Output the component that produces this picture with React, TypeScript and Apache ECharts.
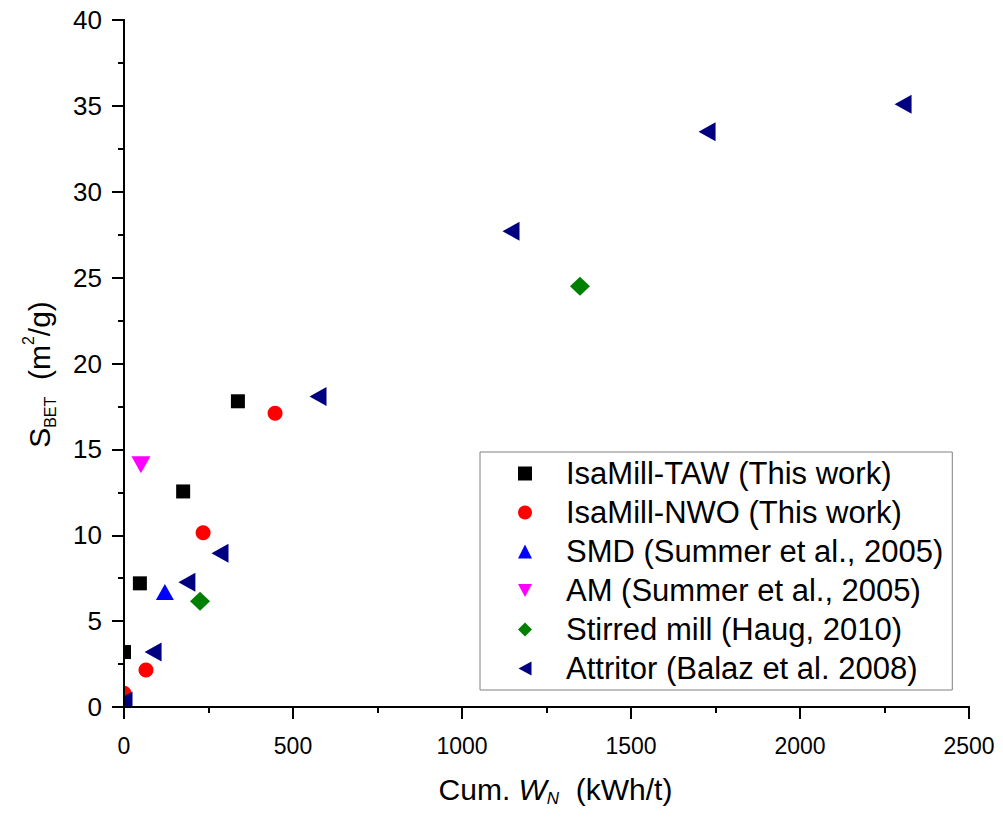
import React, { useEffect, useRef } from "react";
import * as echarts from "echarts";

const FONT = "'Liberation Sans', Arial, Helvetica, sans-serif";

const xMin = 0;
const xMax = 2500;
const xInterval = 500;
const yMin = 0;
const yMax = 40;
const yInterval = 5;

const seriesNames = [
  "IsaMill-TAW (This work)",
  "IsaMill-NWO (This work)",
  "SMD (Summer et al., 2005)",
  "AM (Summer et al., 2005)",
  "Stirred mill (Haug, 2010)",
  "Attritor (Balaz et al. 2008)",
];

const tawData = [
  [0, 3.2],
  [47, 7.2],
  [175, 12.55],
  [337, 17.8],
];
const nwoData = [
  [0, 0.8],
  [65, 2.15],
  [234, 10.15],
  [447, 17.1],
];
const smdData = [[121, 6.7]];
const amData = [[50, 14.1]];
const stirredData = [
  [225, 6.16],
  [1349, 24.5],
];
const attritorData = [
  [0, 0.35],
  [86, 3.2],
  [186, 7.27],
  [284, 8.95],
  [574, 18.08],
  [1145, 27.7],
  [1725, 33.5],
  [2305, 35.1],
];

const seriesData = [tawData, nwoData, smdData, amData, stirredData, attritorData];
const seriesColors = ["#000000", "#ff0000", "#0000ff", "#ff00ff", "#008000", "#000080"];
const seriesSymbols = ["rect", "circle", "triangle", "triangle", "diamond", "triangle"];
const seriesSizes: any[] = [14, 15, [18, 16], [19, 17], [20, 19], [19, 17]];
const seriesRotations = [0, 0, 0, 180, 0, 90];
const legendIcons = [
  "rect",
  "circle",
  "triangle",
  "path://M0,0 L14,0 L7,13 Z",
  "diamond",
  "path://M13,0 L13,14 L0,7 Z",
];

export default function App() {
  const ref = useRef<HTMLDivElement>(null);

  useEffect(() => {
    document.body.style.margin = "0";
    if (!ref.current) return;
    const chart = echarts.init(ref.current, null, { renderer: "svg" });

    const axisLine = { show: true, lineStyle: { color: "#000", width: 2 } };

    const option: any = {
      animation: false,
      backgroundColor: "#ffffff",
      textStyle: { fontFamily: FONT },
      grid: { left: 124, right: 34, top: 20, bottom: 112, containLabel: false },
      xAxis: [
        {
          type: "value",
          position: "bottom",
          min: xMin,
          max: xMax,
          interval: xInterval,
          z: 10,
          axisLine,
          axisTick: { show: true, inside: false, length: 12, lineStyle: { color: "#000", width: 2 } },
          minorTick: { show: true, splitNumber: 2, length: 6, lineStyle: { color: "#000", width: 2 } },
          splitLine: { show: false },
          minorSplitLine: { show: false },
          axisLabel: {
            color: "#000",
            fontSize: 23,
            fontFamily: FONT,
            margin: 27,
            formatter: (v: number) => String(v),
          },
          name: "{n|Cum. }{it|W}{sub|N}{n|  (kWh/t)}",
          nameLocation: "middle",
          nameGap: 64,
          nameTextStyle: {
            padding: [0, 0, 0, 18],
            rich: {
              n: { fontSize: 30, fontFamily: FONT, color: "#000", lineHeight: 36 },
              it: { fontSize: 30, fontFamily: FONT, fontStyle: "italic", color: "#000", lineHeight: 36 },
              sub: { fontSize: 17, fontFamily: FONT, fontStyle: "italic", color: "#000", lineHeight: 14, verticalAlign: "bottom" },
            },
          },
        },
        {
          type: "value",
          position: "top",
          min: xMin,
          max: xMax,
          interval: xInterval,
          z: 10,
          axisLine,
          axisTick: { show: true, inside: true, length: 12, lineStyle: { color: "#000", width: 2 } },
          minorTick: { show: true, splitNumber: 2, length: 6, lineStyle: { color: "#000", width: 2 } },
          splitLine: { show: false },
          axisLabel: { show: false },
        },
      ],
      yAxis: [
        {
          type: "value",
          position: "left",
          min: yMin,
          max: yMax,
          interval: yInterval,
          z: 10,
          axisLine,
          axisTick: { show: true, inside: false, length: 12, lineStyle: { color: "#000", width: 2 } },
          minorTick: { show: true, splitNumber: 2, length: 6, lineStyle: { color: "#000", width: 2 } },
          splitLine: { show: false },
          minorSplitLine: { show: false },
          axisLabel: { color: "#000", fontSize: 26, fontFamily: FONT, margin: 22 },
          name: "{n|S}{sub|BET}{n|  (m}{sup|2}{n|/g)}",
          nameLocation: "middle",
          nameRotate: 90,
          nameGap: 66,
          nameTextStyle: {
            padding: [0, 22, 0, 0],
            rich: {
              n: { fontSize: 30, fontFamily: FONT, color: "#000", lineHeight: 38 },
              sub: { fontSize: 16, fontFamily: FONT, color: "#000", lineHeight: 14, verticalAlign: "bottom" },
              sup: { fontSize: 16, fontFamily: FONT, color: "#000", lineHeight: 18, verticalAlign: "top" },
            },
          },
        },
        {
          type: "value",
          position: "right",
          min: yMin,
          max: yMax,
          interval: yInterval,
          z: 10,
          axisLine,
          axisTick: { show: true, inside: true, length: 12, lineStyle: { color: "#000", width: 2 } },
          minorTick: { show: true, splitNumber: 2, length: 6, lineStyle: { color: "#000", width: 2 } },
          splitLine: { show: false },
          axisLabel: { show: false },
        },
      ],
      legend: {
        show: true,
        orient: "vertical",
        left: 480,
        top: 452,
        itemWidth: 14,
        itemHeight: 14,
        itemGap: 8,
        padding: [6, 9, 6, 38],
        borderColor: "#808080",
        borderWidth: 1,
        backgroundColor: "#ffffff",
        textStyle: { fontSize: 31, lineHeight: 30, color: "#000", fontFamily: FONT, padding: [0, 0, 0, 29] },
        data: seriesNames.map((name, i) => ({ name, icon: legendIcons[i] })),
      },
      graphic: [
        { type: "rect", z: 5, silent: true, shape: { x: 105, y: 628, width: 18.5, height: 86 }, style: { fill: "#ffffff" } },
        { type: "rect", z: 5, silent: true, shape: { x: 124, y: 708, width: 20, height: 8 }, style: { fill: "#ffffff" } },
      ],
      series: seriesNames.map((name, i) => ({
        type: "scatter",
        name,
        xAxisIndex: 0,
        yAxisIndex: 0,
        data: seriesData[i],
        symbol: seriesSymbols[i],
        symbolSize: seriesSizes[i],
        symbolRotate: seriesRotations[i],
        itemStyle: { color: seriesColors[i], opacity: 1 },
        z: 2,
        clip: false,
      })),
    };

    chart.setOption(option);
    return () => {
      chart.dispose();
    };
  }, []);

  return <div ref={ref} style={{ width: 1003, height: 819 }} />;
}
